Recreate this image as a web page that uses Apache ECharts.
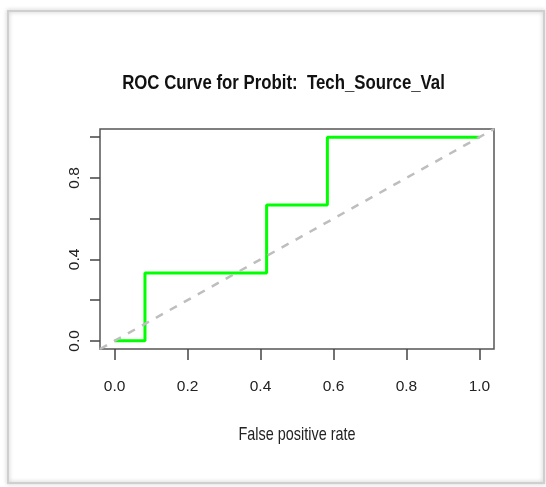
<!DOCTYPE html>
<html>
<head>
<meta charset="utf-8">
<script src="https://cdn.jsdelivr.net/npm/echarts@6/dist/echarts.min.js"></script>
<style>html,body{margin:0;padding:0;background:#fff;}#c{width:546px;height:487px;}</style>
</head>
<body>
<div id="c"></div>
<script>
// ROC curve data (false positive rate, true positive rate)
const fpr = [0, 0.0833, 0.0833, 0.4167, 0.4167, 0.5833, 0.5833, 1];
const tpr = [0, 0, 0.3333, 0.3333, 0.6667, 0.6667, 1, 1];
// reference diagonal
const diagX = [-0.04, 1.04];
const diagY = [-0.04, 1.04];
// axis ticks / labels
const xTicks = [0, 0.2, 0.4, 0.6, 0.8, 1.0];
const yTicks = [0, 0.2, 0.4, 0.6, 0.8, 1.0];
const yLabels = [0, 0.4, 0.8];
const titleText = 'ROC Curve for Probit:  Tech_Source_Val';
const xName = 'False positive rate';

const FONT = "'Liberation Sans', Arial, sans-serif";
const chart = echarts.init(document.getElementById('c'), null, {renderer: 'canvas'});
chart.setOption({
  animation: false,
  backgroundColor: '#fff',
  grid: {left: 100, right: 52, top: 129, bottom: 138, show: true, borderColor: '#555', borderWidth: 1.5, backgroundColor: 'transparent'},
  graphic: [
    {type: 'rect', shape: {x: 8, y: 11, width: 536, height: 472}, style: {fill: 'none', stroke: '#cfcfcf', lineWidth: 2, shadowBlur: 4, shadowColor: 'rgba(0,0,0,0.25)'}, z: 0},
    {type: 'text', x: 283.5, y: 83, scaleX: 0.8, style: {text: titleText, font: "bold 21px " + FONT, fill: '#111', align: 'center', verticalAlign: 'middle'}, z: 10},
    {type: 'text', x: 297, y: 435, scaleX: 0.76, style: {text: xName, font: "19px " + FONT, fill: '#222', align: 'center', verticalAlign: 'middle'}, z: 10}
  ],
  xAxis: {
    type: 'value', min: -0.04, max: 1.04,
    axisLine: {show: false, onZero: false},
    axisTick: {show: true, customValues: xTicks, length: 11, lineStyle: {color: '#444', width: 1.5}},
    axisLabel: {customValues: xTicks, margin: 30, fontFamily: FONT, fontSize: 15.5, color: '#222', formatter: v => v.toFixed(1)},
    splitLine: {show: false}
  },
  yAxis: {
    type: 'value', min: -0.04, max: 1.04,
    axisLine: {show: false, onZero: false},
    axisTick: {show: true, customValues: yTicks, length: 10, lineStyle: {color: '#444', width: 1.5}},
    axisLabel: {customValues: yLabels, rotate: 90, margin: 17, fontFamily: FONT, fontSize: 15.5, color: '#222', formatter: v => v.toFixed(1)},
    splitLine: {show: false}
  },
  series: [
    {type: 'line', data: fpr.map((x, i) => [x, tpr[i]]), symbol: 'none', lineStyle: {color: '#00ff00', width: 3}, z: 3},
    {type: 'line', data: diagX.map((x, i) => [x, diagY[i]]), symbol: 'none', lineStyle: {color: '#bebebe', width: 2.5, type: [8, 8]}, z: 4}
  ]
});
</script>
</body>
</html>
